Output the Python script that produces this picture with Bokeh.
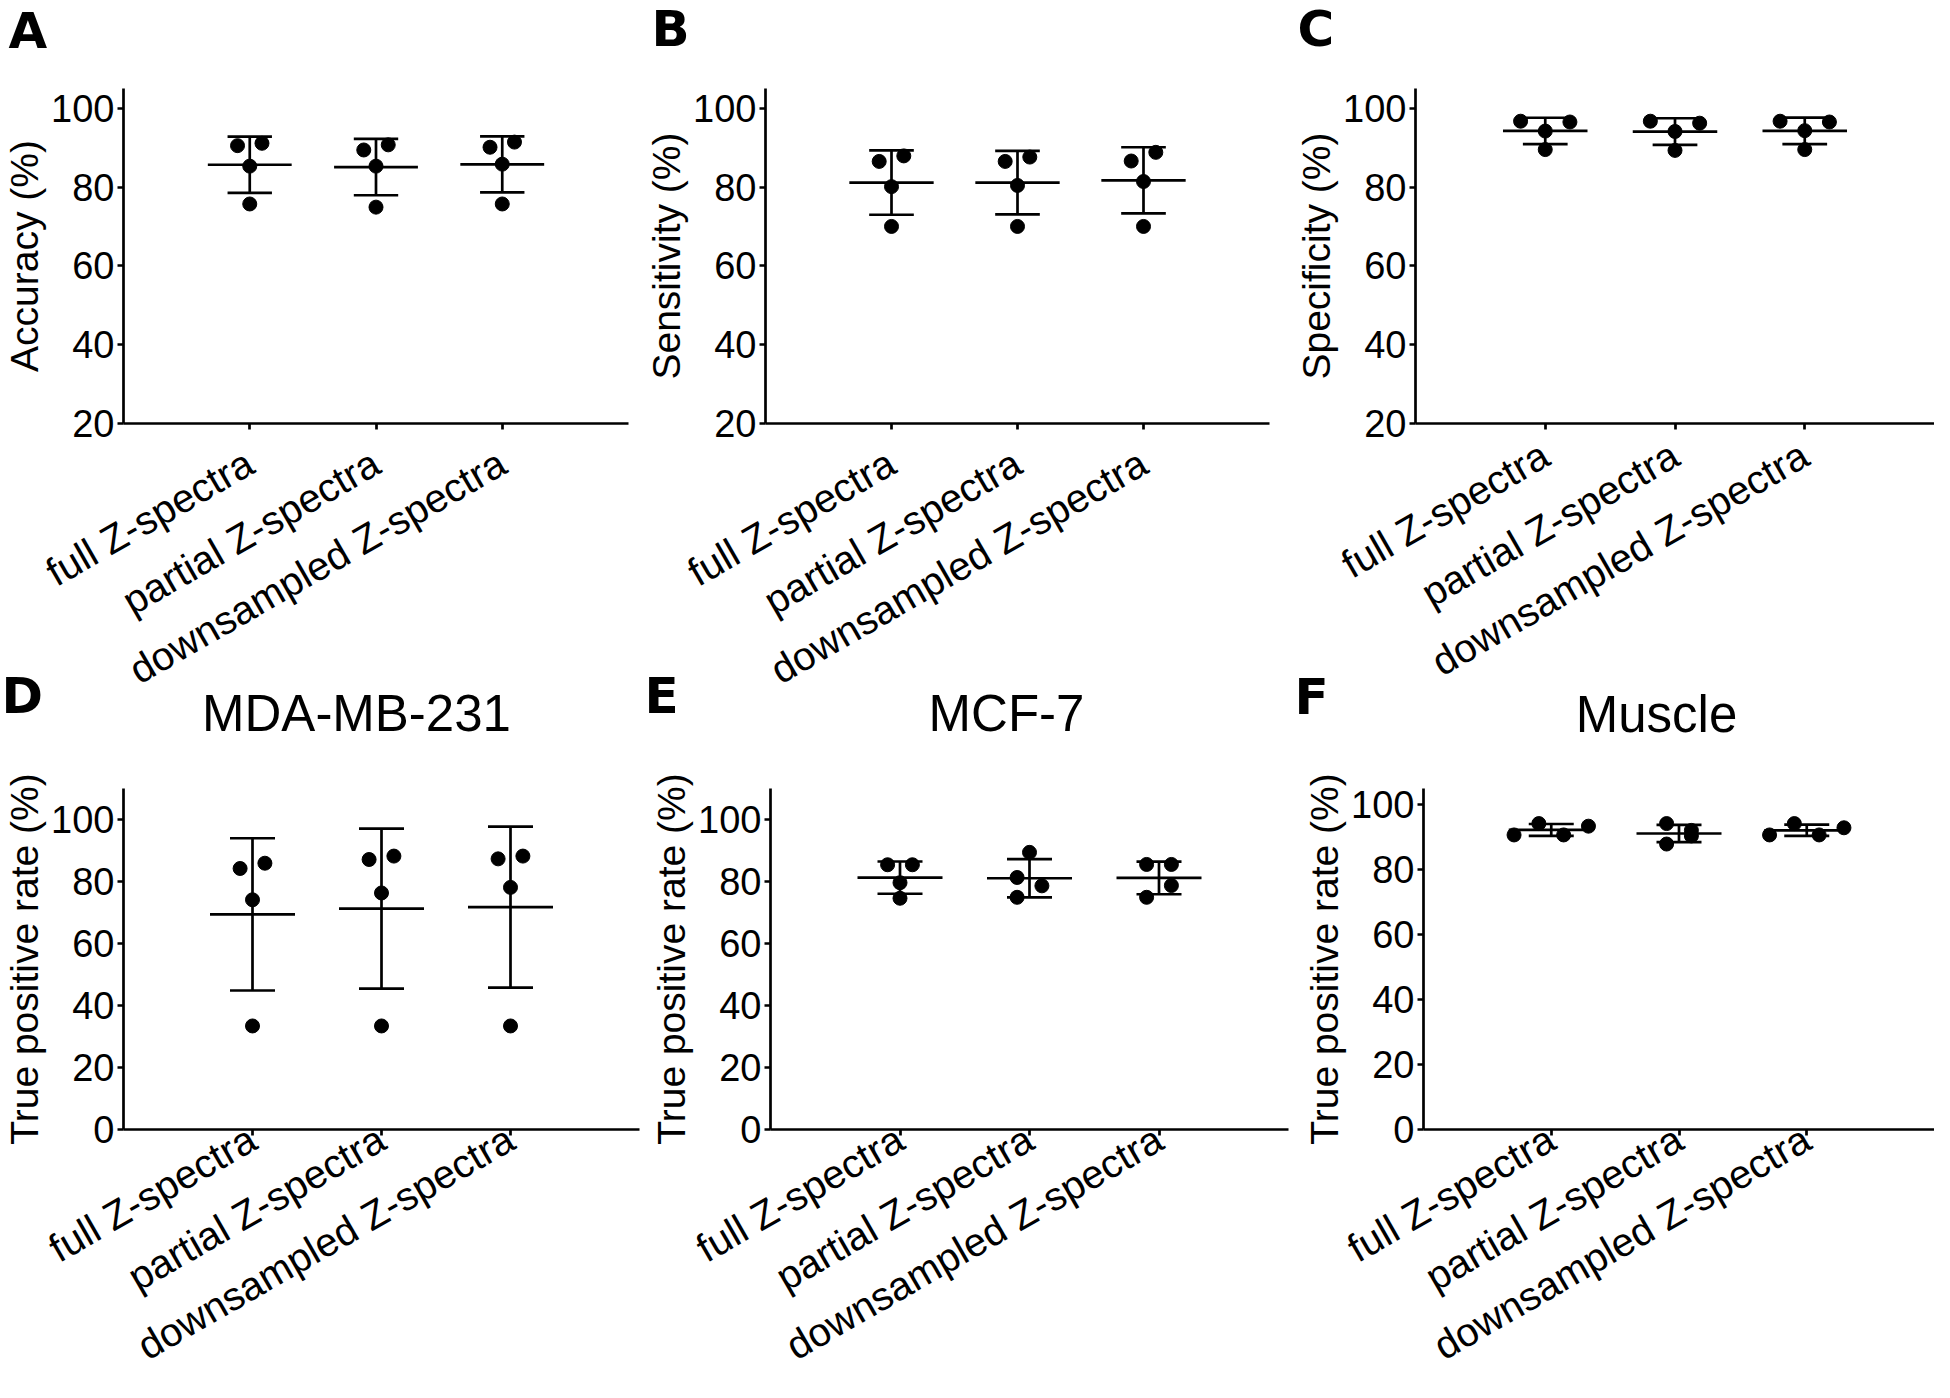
import math
import numpy as np
from bokeh.plotting import figure
from bokeh.layouts import row, column
from bokeh.models import FixedTicker, Label, Range1d
from bokeh.embed import file_html
from bokeh.resources import INLINE

# ---------------- data ----------------
categories = ["full Z-spectra", "partial Z-spectra", "downsampled Z-spectra"]

accuracy = [[90.5, 91.1, 85.3, 75.7], [89.4, 90.7, 85.3, 74.9], [90.1, 91.4, 85.8, 75.7]]
sensitivity = [[86.5, 87.9, 80.1, 70.0], [86.5, 87.6, 80.4, 70.0], [86.6, 88.8, 81.4, 70.0]]
specificity = [[96.7, 94.2, 96.5, 89.5], [96.7, 94.1, 96.2, 89.3], [96.7, 94.3, 96.5, 89.5]]
tpr_mda = [[84.2, 85.9, 74.1, 33.4], [87.1, 88.2, 76.3, 33.4], [87.3, 88.2, 78.1, 33.4]]
tpr_mcf7 = [[85.4, 85.4, 79.6, 74.6], [89.4, 81.3, 78.6, 74.9], [85.5, 85.5, 74.9, 78.7]]
tpr_muscle = [[90.7, 94.2, 90.7, 93.4], [94.2, 92.1, 87.9, 90.4], [90.7, 94.2, 90.7, 92.9]]

y_ticks_top = [20, 40, 60, 80, 100]
y_ticks_bottom = [0, 20, 40, 60, 80, 100]

# ---------------- style ----------------
FONT = "Liberation Sans"
LETTER_FONT = "DejaVu Sans"
LW = 2.7
DOT = 14
ROW_GAP = 24.8
CLUSTER_T = 14.0
MEAN_HALF = 42.5
CAP_HALF = 22.5
LETTER_SIZE = 50
TITLE_SIZE = 51
TITLE_BOX = TITLE_SIZE * 1.117
Q = 0.4  # empirical baseline correction for side-panel labels (x font size)


def swarm_offsets(vals, px_per_y):
    n = len(vals)
    order = sorted(range(n), key=lambda i: -vals[i])
    clusters, cur = [], [order[0]]
    for a, b in zip(order[:-1], order[1:]):
        if (vals[a] - vals[b]) * px_per_y < CLUSTER_T:
            cur.append(b)
        else:
            clusters.append(cur)
            cur = [b]
    clusters.append(cur)
    offs = [0.0] * n
    for c in clusters:
        m = len(c)
        if m == 1:
            continue
        cs = sorted(c)
        span = (max(vals[i] for i in c) - min(vals[i] for i in c)) * px_per_y
        if span < CLUSTER_T:
            for k, i in enumerate(cs):
                offs[i] = (k - (m - 1) / 2) * ROW_GAP
        else:
            for k, i in enumerate(cs):
                offs[i] = (-1 if k % 2 == 0 else 1) * ROW_GAP / 2
    return offs


def make_panel(vals, ylabel, ylo, yhi, yticks, letter, title,
               col_left, row_top, W, H, bl, br, bt, bb, xstandoff,
               letter_x, letter_base, title_center=None, transparent=False):
    ncat = len(categories)
    fw = W - bl - br
    fh = H - bt - bb
    p = figure(width=W, height=H, x_range=Range1d(0, ncat + 1), y_range=Range1d(ylo, yhi),
               output_backend="svg", toolbar_location=None,
               min_border_left=bl, min_border_right=br, min_border_top=bt, min_border_bottom=bb)
    p.grid.visible = False
    p.outline_line_color = None
    if transparent:
        p.border_fill_color = None

    ppx = fw / (ncat + 1)
    ppy = fh / (yhi - ylo)

    xc = [i + 1 for i in range(ncat)]
    means = [float(np.mean(v)) for v in vals]
    sds = [float(np.std(v, ddof=1)) for v in vals]
    mh = MEAN_HALF / ppx
    ch = CAP_HALF / ppx

    p.segment(x0=[x - mh for x in xc], x1=[x + mh for x in xc], y0=means, y1=means,
              line_width=LW, line_color="black")
    p.segment(x0=xc, x1=xc, y0=[m - s for m, s in zip(means, sds)], y1=[m + s for m, s in zip(means, sds)],
              line_width=LW, line_color="black")
    for sign in (-1, 1):
        yy = [m + sign * s for m, s in zip(means, sds)]
        p.segment(x0=[x - ch for x in xc], x1=[x + ch for x in xc], y0=yy, y1=yy,
                  line_width=LW, line_color="black")

    xs, ys = [], []
    for i, v in enumerate(vals):
        offs = swarm_offsets(v, ppy)
        for val, o in zip(v, offs):
            xs.append(i + 1 + o / ppx)
            ys.append(val)
    p.scatter(xs, ys, size=DOT, fill_color="black", line_color="black")

    for ax in (p.xaxis[0], p.yaxis[0]):
        ax.axis_line_width = LW
        ax.axis_line_color = "black"
        ax.major_tick_line_width = LW
        ax.major_tick_line_color = "black"
        ax.major_tick_out = 6
        ax.major_tick_in = 0
        ax.minor_tick_line_color = None
        ax.major_label_text_font = FONT
        ax.major_label_text_color = "black"

    p.yaxis.ticker = FixedTicker(ticks=yticks)
    p.yaxis.major_label_standoff = 3
    p.yaxis.major_label_text_font_size = "38px"
    p.yaxis.axis_label = ylabel
    p.yaxis.axis_label_text_font = FONT
    p.yaxis.axis_label_text_font_size = "39px"
    p.yaxis.axis_label_text_font_style = "normal"
    p.yaxis.axis_label_text_color = "black"
    p.yaxis.axis_label_standoff = 2

    p.xaxis.ticker = FixedTicker(ticks=xc)
    p.xaxis.major_label_overrides = {i + 1: c for i, c in enumerate(categories)}
    p.xaxis.major_label_orientation = math.radians(30)
    p.xaxis.major_label_text_font_size = "40px"
    p.xaxis.major_label_standoff = xstandoff

    frame_left = col_left + bl
    frame_top = row_top + bt
    if title:
        p.add_layout(Label(x=title_center + 8 - frame_left, y=frame_top + Q * TITLE_SIZE - 733,
                           x_units="screen", y_units="screen", text=title,
                           text_font=FONT, text_font_size=f"{TITLE_SIZE}px", text_font_style="normal",
                           text_color="black", text_align="center", text_baseline="alphabetic"),
                     "above")
        letter_bottom = frame_top - TITLE_BOX
    else:
        letter_bottom = frame_top
    p.add_layout(Label(x=letter_x - frame_left, y=letter_bottom + Q * LETTER_SIZE - letter_base,
                       x_units="screen", y_units="screen", text=letter,
                       text_font=LETTER_FONT, text_font_size=f"{LETTER_SIZE}px", text_font_style="bold",
                       text_color="black", text_align="left", text_baseline="alphabetic"),
                 "above")
    return p


R1, R2 = 0, 660
C1, C2, C3 = 8, 650, 1300
H1, H2 = 714, 730
OVERLAP = R1 + H1 - R2

pA = make_panel(accuracy, "Accuracy (%)", 20, 105, y_ticks_top, "A", None,
                C1, R1, 642, H1, 116, 14, 85, 289, 30, 9, 47)
pB = make_panel(sensitivity, "Sensitivity (%)", 20, 105, y_ticks_top, "B", None,
                C2, R1, 650, H1, 119, 23, 87, 289, 30, 655, 47)
pC = make_panel(specificity, "Specificity (%)", 20, 105, y_ticks_top, "C", None,
                C3, R1, 642, H1, 120, 0, 88, 281, 22, 1302, 48)
pD = make_panel(tpr_mda, "True positive rate (%)", 0, 110, y_ticks_bottom, "D", "MDA-MB-231",
                C1, R2, 642, H2, 123, 3, 128, 258, 0, 9, 716, 356, True)
pE = make_panel(tpr_mcf7, "True positive rate (%)", 0, 110, y_ticks_bottom, "E", "MCF-7",
                C2, R2, 650, H2, 128, 4, 128, 258, 0, 652, 716, 1006, True)
pF = make_panel(tpr_muscle, "True positive rate (%)", 0, 105, y_ticks_bottom, "F", "Muscle",
                C3, R2, 642, H2, 131, 0, 127, 258, 0, 1302, 716, 1656, True)

row1 = row(pA, pB, pC)
row2 = row(pD, pE, pF)
row2.margin = (-OVERLAP, 0, 0, 0)
layout = column(row1, row2)

with open("out.html", "w") as f:
    f.write(file_html(layout, INLINE))
